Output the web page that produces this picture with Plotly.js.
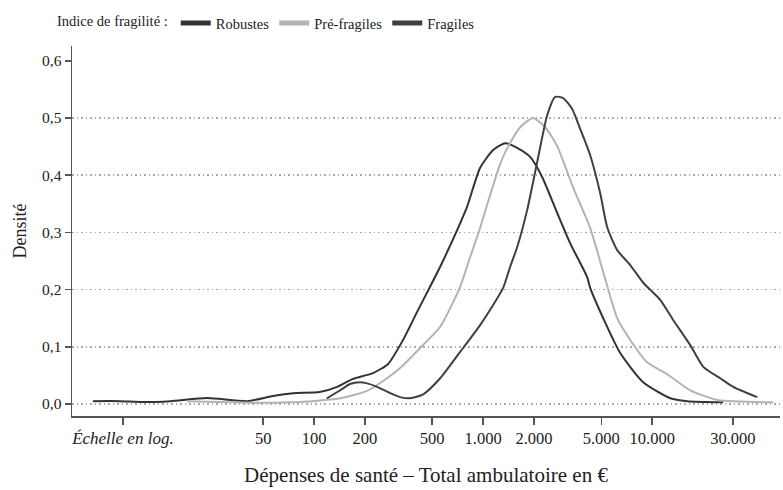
<!DOCTYPE html>
<html>
<head>
<meta charset="utf-8">
<script src="https://cdn.plot.ly/plotly-3.0.1.min.js"></script>
<style>html,body{margin:0;padding:0;background:#fff;}#chart{width:783px;height:490px;}</style>
</head>
<body>
<div id="chart"></div>
<script>
// Robustes
const robX = [4.92, 7.1, 9.7, 14.1, 23.3, 40.2, 57.2, 75.2, 108, 137, 170, 223, 274, 336, 407, 557, 731, 804, 960, 1146, 1349, 1589, 1897, 2234, 2742, 3273, 4123, 4297, 5129, 6468, 8851, 12790, 16110, 26300];
const robY = [0.005, 0.005, 0.0035, 0.005, 0.0105, 0.005, 0.014, 0.019, 0.021, 0.030, 0.044, 0.054, 0.070, 0.112, 0.161, 0.240, 0.316, 0.345, 0.413, 0.444, 0.456, 0.448, 0.432, 0.397, 0.334, 0.281, 0.222, 0.203, 0.150, 0.089, 0.038, 0.010, 0.005, 0.003];
// Pré-fragiles
const preX = [17.7, 31.8, 47.9, 72.1, 98.6, 143, 206, 270, 323, 424, 557, 731, 838, 960, 1099, 1262, 1387, 1656, 1977, 2328, 2742, 3412, 4297, 5129, 6209, 7413, 9336, 12270, 16790, 24250, 52000];
const preY = [0.005, 0.003, 0.002, 0.003, 0.005, 0.010, 0.023, 0.045, 0.063, 0.098, 0.135, 0.205, 0.257, 0.308, 0.365, 0.420, 0.447, 0.484, 0.500, 0.484, 0.451, 0.378, 0.308, 0.231, 0.150, 0.112, 0.073, 0.052, 0.024, 0.007, 0.003];
// Fragiles
const fraX = [119, 143, 163, 187, 206, 236, 282, 323, 370, 442, 557, 731, 960, 1146, 1313, 1445, 1589, 1821, 2088, 2393, 2668, 2974, 3362, 3750, 4297, 4922, 5418, 6209, 7413, 8851, 11150, 13300, 16790, 20050, 25250, 30130, 41800];
const fraY = [0.010, 0.024, 0.035, 0.038, 0.036, 0.030, 0.019, 0.012, 0.010, 0.017, 0.045, 0.091, 0.138, 0.173, 0.203, 0.240, 0.274, 0.339, 0.423, 0.505, 0.537, 0.535, 0.516, 0.481, 0.435, 0.369, 0.309, 0.269, 0.243, 0.212, 0.182, 0.147, 0.103, 0.065, 0.045, 0.030, 0.012];

const seriesNames = ["Robustes", "Pré-fragiles", "Fragiles"];
const xTickVals = [7.4, 50, 100, 200, 500, 1000, 2000, 5000, 10000, 30000];
const xTickText = ["<span style='font-size:17px'><i>Échelle en log.</i></span>", "50", "100", "200", "500", "1.000", "2.000", "5.000", "10.000", "30.000"];
const yTickVals = [0, 0.1, 0.2, 0.3, 0.4, 0.5, 0.6];
const yTickText = ["0,0", "0,1", "0,2", "0,3", "0,4", "0,5", "0,6"];
const gridVals = [0, 0.1, 0.2, 0.3, 0.4, 0.5];

const colors = ["#333333", "#b3b3b3", "#404040"];
const FONT = "'Liberation Serif', 'Times New Roman', serif";
const yRange = [-0.021, 0.626];

const dataX = [robX, preX, fraX];
const dataY = [robY, preY, fraY];

const traces = [];
for (let i = 0; i < 3; i++) {
  traces.push({
    x: dataX[i], y: dataY[i], type: 'scatter', mode: 'lines',
    line: {color: colors[i], width: 2, shape: 'spline', smoothing: 0.6},
    showlegend: false, hoverinfo: 'skip'
  });
}
for (let i = 0; i < 3; i++) {
  traces.push({
    x: [null], y: [null], type: 'scatter', mode: 'lines', name: seriesNames[i],
    line: {color: colors[i], width: 5}
  });
}
traces.push({x: [], y: [], yaxis: 'y2', type: 'scatter', showlegend: false});

const layout = {
  width: 783, height: 490,
  margin: {l: 72, r: 3, t: 46, b: 74},
  paper_bgcolor: '#fff', plot_bgcolor: '#fff',
  font: {family: FONT, color: '#222', size: 15},
  showlegend: true,
  legend: {
    orientation: 'h', x: -0.024, xanchor: 'left', y: 1.062, yanchor: 'middle',
    title: {text: 'Indice de fragilité :', side: 'left', font: {size: 14.5, family: FONT}},
    font: {size: 14.5, family: FONT}, itemwidth: 30, traceorder: 'normal'
  },
  xaxis: {
    type: 'log', range: [Math.log10(3.7), Math.log10(57000)],
    tickvals: xTickVals, ticktext: xTickText,
    ticks: 'outside', ticklen: 7, tickwidth: 1.5, tickcolor: '#555',
    showline: true, linecolor: '#555', linewidth: 1.5,
    showgrid: false, zeroline: false,
    tickfont: {size: 16.5, family: FONT},
    title: {text: 'Dépenses de santé – Total ambulatoire en €', font: {size: 21, family: FONT}, standoff: 20}
  },
  yaxis: {
    range: yRange, tickvals: yTickVals, ticktext: yTickText,
    ticks: 'outside', ticklen: 6, tickwidth: 1.5, tickcolor: '#555',
    showline: true, linecolor: '#555', linewidth: 1.5,
    showgrid: false, zeroline: false,
    tickfont: {size: 15.5, family: FONT},
    title: {text: 'Densité', font: {size: 18, family: FONT}, standoff: 10}
  },
  yaxis2: {
    overlaying: 'y', range: yRange, tickvals: gridVals,
    showgrid: true, gridcolor: '#aaaaaa', griddash: '1.5px,3px', gridwidth: 1.5,
    showticklabels: false, ticks: '', showline: false, zeroline: false
  }
};

Plotly.newPlot('chart', traces, layout, {staticPlot: true, displayModeBar: false});
</script>
</body>
</html>
